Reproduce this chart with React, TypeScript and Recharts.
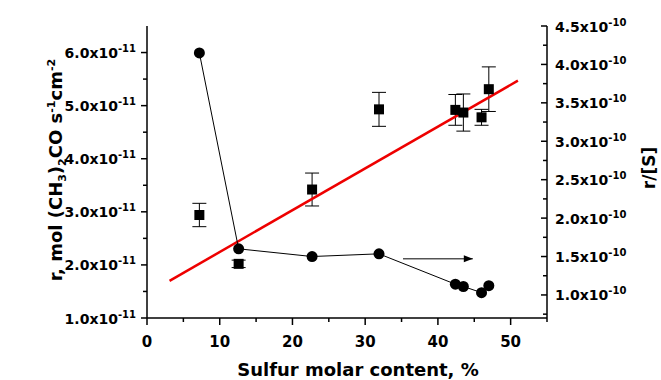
import React from 'react';
import { ComposedChart, Scatter, XAxis, YAxis, ErrorBar, Label } from 'recharts';

// Sulfur molar content, %
const sulfur = [7.2, 12.6, 22.7, 31.9, 42.4, 43.5, 46.0, 47.0];
// r, x10^-11 mol (CH3)2CO s^-1 cm^-2 (left axis)
const rate = [2.94, 2.02, 3.42, 4.93, 4.92, 4.87, 4.78, 5.31];
const rateErr = [0.22, 0.07, 0.31, 0.32, 0.29, 0.35, 0.15, 0.42];
// r/[S], x10^-10 (right axis)
const rateNorm = [4.15, 1.6, 1.5, 1.535, 1.14, 1.11, 1.03, 1.12];
// linear fit (left axis)
const fitX = [3.1, 51];
const fitY = [1.7, 5.47];
// arrow pointing to right axis
const arrowX = [35.2, 44.8];
const arrowY = [1.47, 1.47];

const xTicks = [0, 5, 10, 15, 20, 25, 30, 35, 40, 45, 50, 55];
const leftTicks = [1, 1.5, 2, 2.5, 3, 3.5, 4, 4.5, 5, 5.5, 6];
const rightTicks = [0.75, 1, 1.25, 1.5, 1.75, 2, 2.25, 2.5, 2.75, 3, 3.25, 3.5, 3.75, 4, 4.25, 4.5];

const squareData = sulfur.map((x, i) => ({ x, y: rate[i], err: rateErr[i] }));
const circleData = sulfur.map((x, i) => ({ x, y: rateNorm[i] }));
const fitData = fitX.map((x, i) => ({ x, y: fitY[i] }));
const arrowData = arrowX.map((x, i) => ({ x, y: arrowY[i] }));

const FONT = '"DejaVu Sans", sans-serif';

const LeftTick = (props: any) => {
  const { x, y, payload } = props;
  const v = payload.value;
  const major = Math.abs(v - Math.round(v)) < 1e-6;
  return (
    <g>
      <line x1={x - (major ? 6 : 4)} x2={x} y1={y} y2={y} stroke="#000" strokeWidth={1.5} />
      {major && (
        <text x={x - 11} y={y + 5.5} textAnchor="end" fontFamily={FONT} fontWeight="bold" fontSize={14} fill="#000">
          {v.toFixed(1) + 'x10'}
          <tspan dy={-6} fontSize={10}>-11</tspan>
        </text>
      )}
    </g>
  );
};

const RightTick = (props: any) => {
  const { x, y, payload } = props;
  const v = payload.value;
  const major = Math.abs(v * 2 - Math.round(v * 2)) < 1e-6;
  return (
    <g>
      <line x1={x - (major ? 6 : 4)} x2={x} y1={y} y2={y} stroke="#000" strokeWidth={1.5} />
      {major && (
        <text x={x + 8} y={y + 5.5} textAnchor="start" fontFamily={FONT} fontWeight="bold" fontSize={14} fill="#000">
          {v.toFixed(1) + 'x10'}
          <tspan dy={-6} fontSize={10}>-10</tspan>
        </text>
      )}
    </g>
  );
};

const BottomTick = (props: any) => {
  const { x, y, payload } = props;
  const v = payload.value;
  const major = v % 10 === 0;
  return (
    <g>
      <line x1={x} x2={x} y1={y} y2={y + (major ? 7 : 4)} stroke="#000" strokeWidth={1.5} />
      {major && (
        <text x={x} y={y + 29} textAnchor="middle" fontFamily={FONT} fontWeight="bold" fontSize={15} fill="#000">
          {String(v)}
        </text>
      )}
    </g>
  );
};

const TopTick = (props: any) => {
  const { x, y, payload } = props;
  const v = payload.value;
  const major = v % 10 === 0;
  return <line x1={x} x2={x} y1={y} y2={y + (major ? 6 : 4)} stroke="#000" strokeWidth={1.5} />;
};

const Square = (props: any) => {
  const { cx, cy } = props;
  return <rect x={cx - 5} y={cy - 5} width={10} height={10} fill="#000" />;
};

const Dot = (props: any) => {
  const { cx, cy } = props;
  return <circle cx={cx} cy={cy} r={5.5} fill="#000" />;
};

const Nothing = () => <g />;

const ArrowHead = (props: any) => {
  const { cx, cy, payload } = props;
  if (!payload || payload.x !== arrowX[arrowX.length - 1]) return <g />;
  return <polygon points={`${cx},${cy} ${cx - 9},${cy - 3.5} ${cx - 9},${cy + 3.5}`} fill="#000" />;
};

const XTitle = (props: any) => {
  const vb = props.viewBox;
  return (
    <text x={vb.x + vb.width / 2 + 11} y={vb.y + 58} textAnchor="middle" fontFamily={FONT} fontWeight="bold" fontSize={18} fill="#000">
      Sulfur molar content, %
    </text>
  );
};

const LeftTitle = (props: any) => {
  const vb = props.viewBox;
  const cx = vb.x + 62;
  const cy = vb.y + vb.height / 2 - 2;
  return (
    <text x={cx} y={cy} transform={`rotate(-90, ${cx}, ${cy})`} textAnchor="middle" fontFamily={FONT} fontWeight="bold" fontSize={18} fill="#000">
      r, mol (CH
      <tspan dy={4} fontSize={11}>3</tspan>
      <tspan dy={-4}>)</tspan>
      <tspan dy={4} fontSize={11}>2</tspan>
      <tspan dy={-4}>CO s</tspan>
      <tspan dy={-7} fontSize={11}>-1</tspan>
      <tspan dy={7}>cm</tspan>
      <tspan dy={-7} fontSize={11}>-2</tspan>
    </text>
  );
};

const RightTitle = (props: any) => {
  const vb = props.viewBox;
  const cx = vb.x + 108;
  const cy = vb.y + vb.height / 2 - 4;
  return (
    <text x={cx} y={cy} transform={`rotate(-90, ${cx}, ${cy})`} textAnchor="middle" fontFamily={FONT} fontWeight="bold" fontSize={17} fill="#000">
      r/[S]
    </text>
  );
};

export default function App() {
  return (
    <div style={{ position: 'absolute', left: 0, top: 0, width: 661, height: 380, background: '#fff' }}>
      <ComposedChart width={661} height={380} margin={{ top: 26, right: 0, bottom: 0, left: 0 }}>
        <XAxis
          xAxisId="bottom"
          dataKey="x"
          type="number"
          domain={[0, 55]}
          ticks={xTicks}
          interval={0}
          height={62}
          tickSize={0}
          tickMargin={0}
          tickLine={false}
          tick={<BottomTick />}
          axisLine={{ stroke: '#000', strokeWidth: 1.5 }}
        >
          <Label content={<XTitle />} />
        </XAxis>
        <XAxis
          xAxisId="top"
          orientation="top"
          dataKey="x"
          type="number"
          domain={[0, 55]}
          ticks={xTicks}
          interval={0}
          height={0}
          tickSize={0}
          tickMargin={0}
          tickLine={false}
          tick={<TopTick />}
          axisLine={{ stroke: '#000', strokeWidth: 1.5 }}
        />
        <YAxis
          yAxisId="left"
          dataKey="y"
          type="number"
          domain={[1, 6.5]}
          ticks={leftTicks}
          interval={0}
          width={147}
          tickSize={0}
          tickMargin={0}
          tickLine={false}
          tick={<LeftTick />}
          axisLine={{ stroke: '#000', strokeWidth: 1.5 }}
        >
          <Label content={<LeftTitle />} />
        </YAxis>
        <YAxis
          yAxisId="right"
          orientation="right"
          dataKey="y"
          type="number"
          domain={[0.7, 4.5]}
          ticks={rightTicks}
          interval={0}
          width={114}
          tickSize={0}
          tickMargin={0}
          tickLine={false}
          tick={<RightTick />}
          axisLine={{ stroke: '#000', strokeWidth: 1.5 }}
        >
          <Label content={<RightTitle />} />
        </YAxis>

        <Scatter
          xAxisId="bottom"
          yAxisId="left"
          data={fitData}
          shape={<Nothing />}
          line={{ stroke: '#ee0000', strokeWidth: 2.5 }}
          isAnimationActive={false}
        />
        <Scatter
          xAxisId="top"
          yAxisId="right"
          data={arrowData}
          shape={<ArrowHead />}
          line={{ stroke: '#000', strokeWidth: 1 }}
          isAnimationActive={false}
        />
        <Scatter
          xAxisId="bottom"
          yAxisId="right"
          data={circleData}
          shape={<Dot />}
          line={{ stroke: '#000', strokeWidth: 1 }}
          isAnimationActive={false}
        />
        <Scatter xAxisId="bottom" yAxisId="left" data={squareData} shape={<Square />} isAnimationActive={false}>
          <ErrorBar dataKey="err" direction="y" width={7} stroke="#000" strokeWidth={1} isAnimationActive={false} />
        </Scatter>
      </ComposedChart>
    </div>
  );
}
